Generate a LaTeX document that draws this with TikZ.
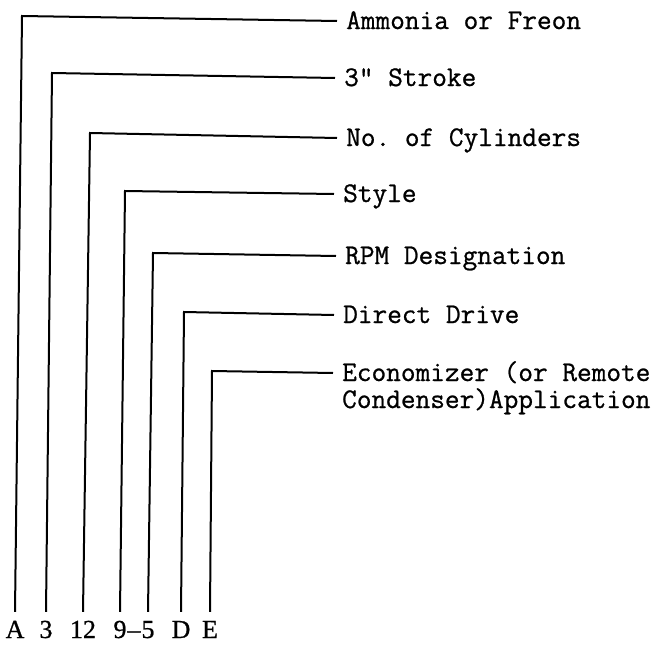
\documentclass[tikz,border=0pt]{standalone}
\usepackage{fontspec}
\newfontfamily\descfont[FakeBold=0.8]{Latin Modern Mono}
\newfontfamily\codefont[FakeBold=0.8]{Liberation Serif}
\begin{document}
\frenchspacing
\begin{tikzpicture}[x=1pt,y=-1pt,
  lead/.style={line width=2pt, line join=miter, black},
  desc/.style={font=\descfont\fontsize{28.5}{30}\selectfont, anchor=base west,
    inner xsep=9pt, inner ysep=0pt, text height=16pt, text depth=0pt},
  code/.style={font=\codefont\fontsize{26}{28}\selectfont, anchor=base,
    inner xsep=0pt, inner ysep=8pt, text height=18pt, text depth=0pt}]
\useasboundingbox (0,0) rectangle (662,645);

% description texts
\node[desc] (tA) at (337,29)  {Ammonia or Freon};
\node[desc] (t3) at (335,86)  {3" Stroke};
\node[desc] (t12) at (337,146) {No. of Cylinders};
\node[desc] (t9) at (334,202) {Style};
\node[desc] (t5) at (336,264) {RPM Designation};
\node[desc] (tD) at (334,323) {Direct Drive};
\node[desc] (tE) at (333,381) {Economizer (or Remote};
\node[desc] (tE2) at (333,408) {Condenser)Application};

% model code characters
\node[code] (bA) at (15,638) {A};
\node[code] (b3) at (46,638) {3};
\node[code] (b12) at (83,638) {12};
\node[code] (b9) at (120,638) {9};
\node[code] (bdash) at (134,638) {\textendash};
\node[code] (b5) at (148,638) {5};
\node[code] (bD) at (181,638) {D};
\node[code] (bE) at (210,638) {E};

% corners
\coordinate (cA) at (22,16);
\coordinate (c3) at (52,73);
\coordinate (c12) at (90,133);
\coordinate (c9) at (125,191);
\coordinate (c5) at (153,253);
\coordinate (cD) at (184,312);
\coordinate (cE) at (212,371);

% leaders
\draw[lead] (bA.north) -- (cA) -- (tA.west);
\draw[lead] (b3.north) -- (c3) -- (t3.west);
\draw[lead] (b12.north) -- (c12) -- (t12.west);
\draw[lead] (b9.north) -- (c9) -- (t9.west);
\draw[lead] (b5.north) -- (c5) -- (t5.west);
\draw[lead] (bD.north) -- (cD) -- (tD.west);
\draw[lead] (bE.north) -- (cE) -- (tE.west);
\end{tikzpicture}
\end{document}
